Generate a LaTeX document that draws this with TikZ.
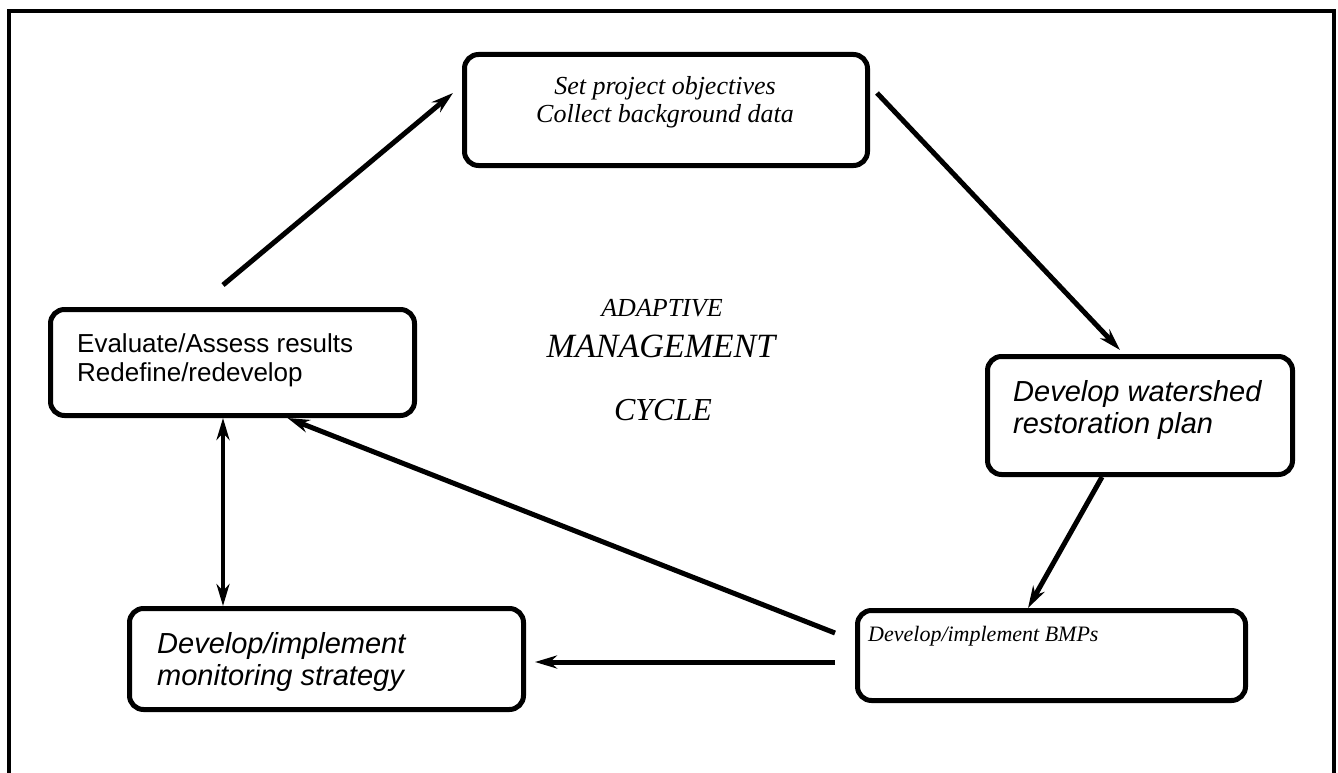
\documentclass[tikz,border=0pt]{standalone}
\usepackage{fontspec}
\setmainfont{Liberation Serif}
\setsansfont{Liberation Sans}
\usetikzlibrary{arrows.meta}
\tikzset{
  box/.style={draw, line width=5pt, rounded corners=14pt, inner sep=0pt},
  arr/.style={line width=5pt, -{Stealth[length=22pt,width=13pt,inset=7pt]}},
  darr/.style={line width=4.5pt, {Stealth[length=22pt,width=13pt,inset=7pt]}-{Stealth[length=22pt,width=13pt,inset=7pt]}},
  sertxt/.style={font=\fontsize{26}{28}\selectfont\itshape, anchor=base, inner sep=0pt},
  bmptxt/.style={font=\fontsize{22}{24}\selectfont\itshape, anchor=base west, inner sep=0pt},
  sanstxt/.style={font=\fontsize{26}{29}\selectfont\sffamily, anchor=base west, inner sep=0pt},
  sansit/.style={font=\fontsize{29}{32}\selectfont\sffamily\itshape, anchor=base west, inner sep=0pt},
  cyc/.style={anchor=base, inner sep=0pt},
}
\begin{document}
\begin{tikzpicture}[x=1pt,y=-1pt]
\useasboundingbox (0,0) rectangle (1338,773);
\fill[white] (0,0) rectangle (1338,773);
\draw[line width=4pt] (9,790) -- (9,11.5) -- (1334,11.5) -- (1334,790);

% boxes
\node[box, minimum width=403pt, minimum height=111pt] (top) at (666,110) {};
\node[box, minimum width=364pt, minimum height=106pt] (eval) at (232.5,362.5) {};
\node[box, minimum width=305pt, minimum height=118pt] (water) at (1140,415.5) {};
\node[box, minimum width=388pt, minimum height=90pt] (bmp) at (1051.5,655.5) {};
\node[box, minimum width=394pt, minimum height=101pt] (mon) at (326.5,659) {};

% texts
\node[sertxt] (t1) at (665,95) {Set project objectives};
\node[sertxt] (t2) at (665,123) {Collect background data};
\node[sanstxt] (e1) at (77,352) {Evaluate/Assess results};
\node[sanstxt] (e2) at (77,381) {Redefine/redevelop};
\node[sansit] (w1) at (1013,401) {Develop watershed};
\node[sansit] (w2) at (1013,433) {restoration plan};
\node[bmptxt] (b1) at (868,641) {Develop/implement BMPs};
\node[sansit] (m1) at (157,653) {Develop/implement};
\node[sansit] (m2) at (157,685) {monitoring strategy};
\node[cyc, font=\fontsize{26}{28}\selectfont\itshape] (c1) at (662,316) {ADAPTIVE};
\node[cyc, font=\fontsize{34}{36}\selectfont\itshape] (c2) at (661,357) {MANAGEMENT};
\node[cyc, font=\fontsize{32}{34}\selectfont\itshape] (c3) at (663,420) {CYCLE};

% connector ends
\coordinate (a1s) at (223,285);
\coordinate (a1e) at (453,93);
\coordinate (a2s) at (877,93);
\coordinate (a2e) at (1120,350);
\coordinate (a4s) at (835,633);
\coordinate (a5s) at (835,662);
\coordinate (a5e) at (535,662);

% connectors
\draw[arr] (a1s) -- (a1e);
\draw[arr] (a2s) -- (a2e);
\draw[arr] ([xshift=-38pt]water.south) -- ([xshift=-23.5pt]bmp.north);
\draw[arr] (a4s) -- ([xshift=55pt]eval.south);
\draw[arr] (a5s) -- (a5e);
\draw[darr] ([xshift=-9.5pt]eval.south) -- ([xshift=-103.5pt]mon.north);
\end{tikzpicture}
\end{document}
